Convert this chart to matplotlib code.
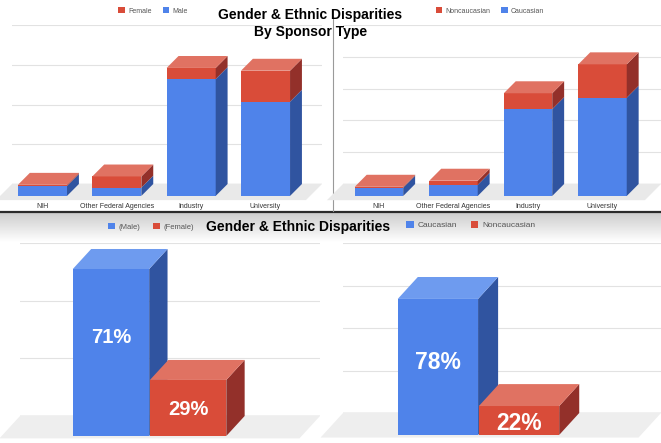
import numpy as np
import matplotlib
matplotlib.use("Agg")
import matplotlib.pyplot as plt
from matplotlib.patches import Polygon, Patch

plt.rcParams['font.family'] = ['Liberation Sans', 'DejaVu Sans']

# ---- data ----
sponsors = ["NIH", "Other Federal Agencies", "Industry", "University"]
male = [2.5, 2.1, 29.4, 23.7]
female = [0.3, 2.8, 2.8, 7.8]
caucasian = [2.6, 3.5, 27.3, 30.9]
noncaucasian = [0.3, 1.3, 5.0, 10.5]

gender_groups = ["(Male)", "(Female)"]
gender_height = [72.4, 24.3]
gender_pct = ["71%", "29%"]
ethnic_groups = ["Caucasian", "Noncaucasian"]
ethnic_height = [80, 17]
ethnic_pct = ["78%", "22%"]

title = "Gender & Ethnic Disparities"

BLUE, BLUE_SIDE, BLUE_TOP = "#4f83ea", "#3054a0", "#6e9bef"
RED, RED_SIDE, RED_TOP = "#d94c39", "#93302a", "#e07262"

W, H = 661, 443
fig = plt.figure(figsize=(W / 100, H / 100), dpi=100)


def px_axes(left, top, right, bottom, **kw):
    return fig.add_axes([left / W, 1 - bottom / H, (right - left) / W, (bottom - top) / H], **kw)


def fx(px):
    return px / W


def fy(py):
    return 1 - py / H


# background: separator lines and gradient band
bg = fig.add_axes([0, 0, 1, 1], zorder=-5)
bg.set_xlim(0, W)
bg.set_ylim(H, 0)
bg.axis("off")
grad = np.linspace(0.80, 1.0, 64).reshape(-1, 1)
bg.imshow(np.dstack([grad] * 3), extent=(0, W, 242, 212), aspect="auto", zorder=0)
bg.plot([0, W], [212, 212], color="#2a2a2a", lw=1.6, zorder=2)
bg.plot([333, 333], [18, 211], color="#9a9a9a", lw=0.8, zorder=2)


def style_axes(ax, ymax, step, floor_dx, floor_dy, floor_color, base_color):
    ax.set_ylim(0, ymax)
    ax.set_yticks(np.arange(0, ymax + 0.01, step))
    ax.set_yticklabels([])
    ax.tick_params(length=0)
    ax.grid(axis="y", color="#e2e2e2", lw=0.8, zorder=0.5)
    ax.set_axisbelow(True)
    for s in ax.spines.values():
        s.set_visible(False)
    ax.patch.set_alpha(0)
    xl, xr = ax.get_xlim()
    ax.add_patch(Polygon([(xl, 0), (xr, 0), (xr - floor_dx, -floor_dy), (xl - floor_dx, -floor_dy)],
                         closed=True, color=floor_color, lw=0, zorder=1, clip_on=False))
    ax.axhline(0, color=base_color, lw=0.9, zorder=1.5)


def bar3d(ax, x, base, h, w, dx, dy, front, side, top, z, draw_top):
    x0, x1 = x - w / 2, x + w / 2
    y0, y1 = base - dy, base + h - dy
    ax.bar(x, h, width=w, bottom=y0, color=front, lw=0, zorder=z, clip_on=False)
    ax.add_patch(Polygon([(x1, y0), (x1 + dx, y0 + dy), (x1 + dx, y1 + dy), (x1, y1)],
                         closed=True, color=side, lw=0, zorder=z, clip_on=False))
    if draw_top:
        ax.add_patch(Polygon([(x0, y1), (x1, y1), (x1 + dx, y1 + dy), (x0 + dx, y1 + dy)],
                             closed=True, color=top, lw=0, zorder=z + 0.1, clip_on=False))


def stacked_panel(ax, lower, upper, xlim, ymax, w, dx, dy):
    ax.set_xlim(*xlim)
    style_axes(ax, ymax, 10, dx * 1.35, dy * 1.35, "#e9e9e9", "#c4c4c4")
    for i, (lo, up) in enumerate(zip(lower, upper)):
        bar3d(ax, i, 0, lo, w, dx, dy, BLUE, BLUE_SIDE, BLUE_TOP, 3 + i, False)
        bar3d(ax, i, lo, up, w, dx, dy, RED, RED_SIDE, RED_TOP, 3.2 + i, True)
    ax.set_xticks(range(len(sponsors)))
    ax.set_xticklabels(sponsors, fontsize=5, color="#333333")
    ax.tick_params(axis="x", pad=13.5)


def share_panel(ax, heights, pcts, xlim, ymax, step, w, dx, dy, fracs, fs):
    ax.set_xlim(*xlim)
    style_axes(ax, ymax, step, dx * 1.12, dy * 1.12, "#eeeeee", "#9e9e9e")
    cols = [(BLUE, BLUE_SIDE, BLUE_TOP), (RED, RED_SIDE, RED_TOP)]
    for i, (hgt, lab) in enumerate(zip(heights, pcts)):
        f, s, t = cols[i]
        bar3d(ax, i, 0, hgt, w, dx, dy, f, s, t, 3 + i, True)
        ax.text(i, hgt * fracs[i] - dy, lab, ha="center", va="center", color="white",
                fontsize=fs, fontweight="bold", zorder=10, clip_on=False)
    ax.set_xticks([])


# top-left: gender by sponsor
ax1 = px_axes(12, 25, 322, 184)
stacked_panel(ax1, male, female, (-0.41, 3.76), 40, 0.66, 0.16, 3.0)

# top-right: ethnicity by sponsor
ax2 = px_axes(343, 25, 661, 184)
stacked_panel(ax2, caucasian, noncaucasian, (-0.483, 3.785), 50, 0.65, 0.16, 3.77)

# bottom-left: overall gender share
ax3 = px_axes(20, 243, 320, 416)
share_panel(ax3, gender_height, gender_pct, (-1.18, 2.71), 75, 25, 0.99, 0.238, 8.67,
            [0.59, 0.48], 14.5)

# bottom-right: overall ethnic share
ax4 = px_axes(343, 243, 661, 413)
share_panel(ax4, ethnic_height, ethnic_pct, (-1.17, 2.75), 100, 25, 0.99, 0.247, 12.9,
            [0.53, 0.41], 16.5)

# titles
fig.text(fx(310.5), fy(15), title, ha="center", va="center", fontsize=10, fontweight="bold")
fig.text(fx(310.5), fy(32), "By Sponsor Type", ha="center", va="center", fontsize=10,
         fontweight="bold")
fig.text(fx(298), fy(227), title, ha="center", va="center", fontsize=10, fontweight="bold")


def legend(labels, colors, cx, cy, fs):
    handles = [Patch(facecolor=c, edgecolor="none") for c in colors]
    fig.legend(handles, labels, loc="center", bbox_to_anchor=(fx(cx), fy(cy)), ncol=2,
               frameon=False, fontsize=fs, labelcolor="#555555", handlelength=0.9,
               handleheight=0.9, handletextpad=0.5, columnspacing=1.6, borderpad=0)


legend(["Female", "Male"], [RED, BLUE], 153, 11, 5)
legend(["Noncaucasian", "Caucasian"], [RED, BLUE], 490, 11, 5)
legend(gender_groups, [BLUE, RED], 151, 227, 5.5)
legend(ethnic_groups, [BLUE, RED], 471, 225, 6)

fig.savefig("out.png", dpi=100)
